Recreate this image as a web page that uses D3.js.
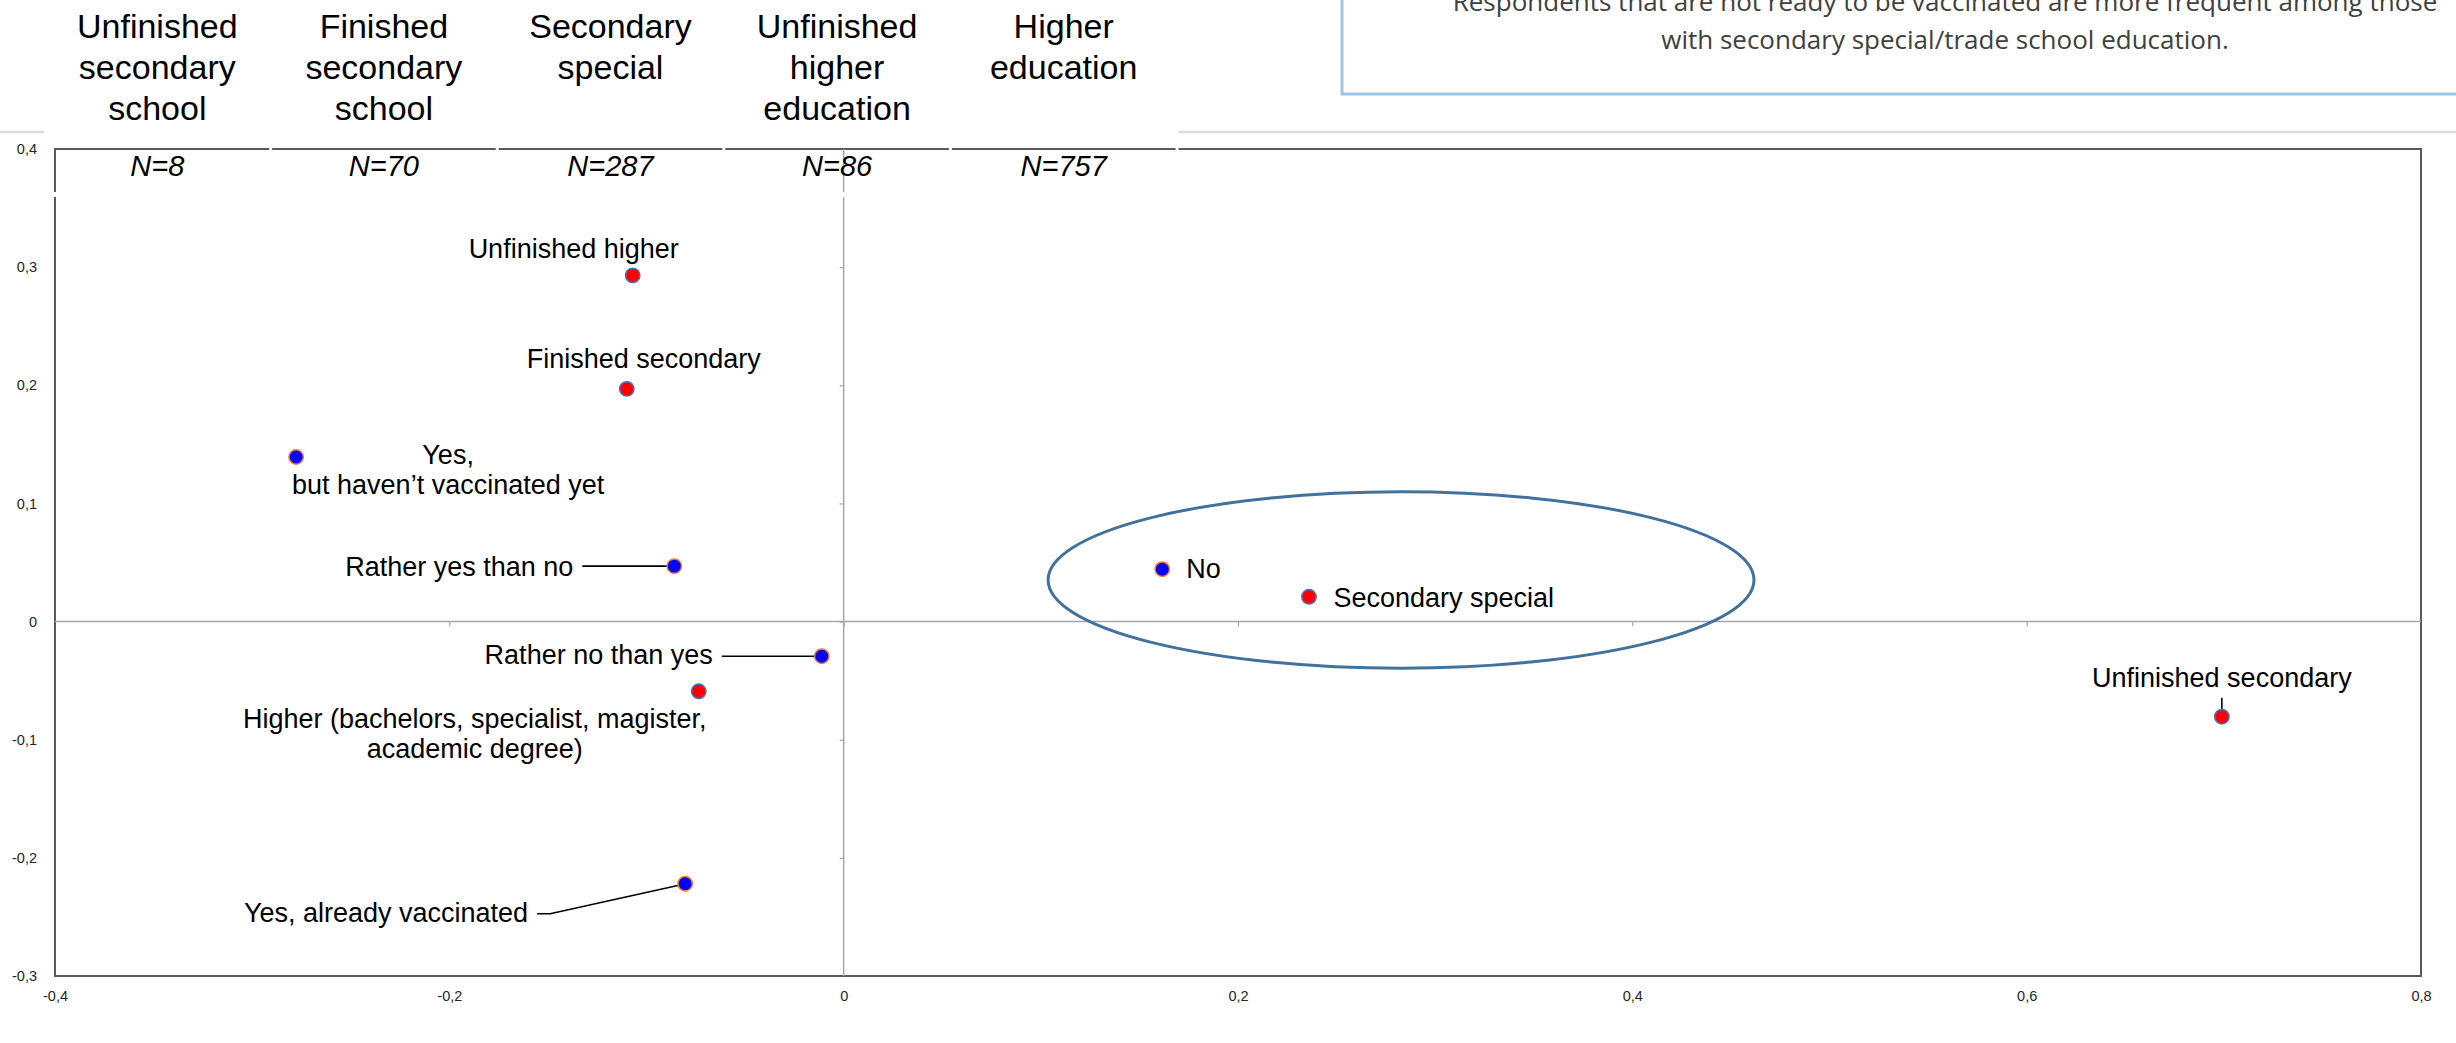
<!DOCTYPE html>
<html><head><meta charset="utf-8">
<script src="https://cdn.jsdelivr.net/npm/d3@7"></script>
<style>html,body{margin:0;padding:0;background:#fff;overflow:hidden}</style>
</head><body>
<svg id="chart" width="2456" height="1043"></svg>
<script>
// Header table: education groups and their sample sizes
const eduHeaderLines = [
  ["Unfinished", "secondary", "school"],
  ["Finished", "secondary", "school"],
  ["Secondary", "special"],
  ["Unfinished", "higher", "education"],
  ["Higher", "education"]
];
const eduN = [8, 70, 287, 86, 757];

// Education categories (red points)
const eduNames = [
  ["Unfinished higher"],
  ["Finished secondary"],
  ["Higher (bachelors, specialist, magister,", "academic degree)"],
  ["Secondary special"],
  ["Unfinished secondary"]
];
const eduX = [-0.107, -0.110, -0.0735, 0.236, 0.699];
const eduY = [0.293, 0.197, -0.059, 0.021, -0.0805];

// Readiness to be vaccinated (blue points)
const vacNames = [
  ["Yes,", "but haven\u2019t vaccinated yet"],
  ["Rather yes than no"],
  ["Rather no than yes"],
  ["No"],
  ["Yes, already vaccinated"]
];
const vacX = [-0.2777, -0.0859, -0.0111, 0.1616, -0.0804];
const vacY = [0.1393, 0.0469, -0.0293, 0.0443, -0.2219];

const xTicks = [-0.4, -0.2, 0, 0.2, 0.4, 0.6, 0.8];
const yTicks = [0.4, 0.3, 0.2, 0.1, 0, -0.1, -0.2, -0.3];

const noteLines = [
  "Respondents that are not ready to be vaccinated are more frequent among those",
  "with secondary special/trade school education."
];

// Highlight ellipse around the "No" / "Secondary special" pair (data units)
const highlight = {cx: 0.2827, cy: 0.0352, rx: 0.179, ry: 0.0747};

// ---- label placement (pixel offsets from each point) ----
const eduLabelPos = [
  {anchor: "middle", dx: -59, dy: -17},
  {anchor: "middle", dx: 17, dy: -21},
  {anchor: "middle", dx: -224, dy: 37},
  {anchor: "start", dx: 24.5, dy: 10},
  {anchor: "middle", dx: 0, dy: -30, leader: [[0, -19], [0, 0]]}
];
const vacLabelPos = [
  {anchor: "middle", dx: 152, dy: 7},
  {anchor: "end", dx: -101, dy: 10, leader: [[-92, 0], [0, 0]]},
  {anchor: "end", dx: -109, dy: 8, leader: [[-100, 0], [0, 0]]},
  {anchor: "start", dx: 24, dy: 9},
  {anchor: "end", dx: -157, dy: 38, leader: [[-148, 30], [-135, 30], [-4, 1]]}
];

const W = 2456, H = 1043;
const plot = {left: 55, right: 2421, top: 149, bottom: 976};
const FONT = "'Liberation Sans', Arial, Helvetica, sans-serif";

const svg = d3.select("#chart");
const x = d3.scaleLinear().domain([-0.4, 0.8]).range([plot.left, plot.right]);
const y = d3.scaleLinear().domain([-0.3, 0.4]).range([plot.bottom, plot.top]);

const loc = d3.formatLocale({decimal: ",", thousands: " ", grouping: [3], currency: ["", ""], minus: "-"});
const fmt = loc.format(".1~f");

svg.append("rect").attr("width", W).attr("height", H).attr("fill", "#fff");

// thin separator line under the header area
svg.append("line").attr("x1", 0).attr("x2", W).attr("y1", 132).attr("y2", 132)
  .attr("stroke", "#d9d9d9").attr("stroke-width", 2.5);

// note box
svg.append("rect").attr("x", 1342).attr("y", -20).attr("width", 1200).attr("height", 114)
  .attr("fill", "#fff").attr("stroke", "#9dc3e6").attr("stroke-width", 3);
svg.append("g").selectAll("text").data(noteLines).join("text")
  .attr("x", 1945).attr("y", (d, i) => 11 + i * 38)
  .attr("text-anchor", "middle")
  .attr("font-family", "'Open Sans', 'Noto Sans', sans-serif")
  .attr("font-size", 26).attr("fill", "#404040")
  .text(d => d);

// header table
const table = {x0: 44, x1: 1177};
const colW = (table.x1 - table.x0) / eduHeaderLines.length;
const colCenter = i => table.x0 + colW * (i + 0.5);
svg.append("rect").attr("x", table.x0).attr("y", 0).attr("width", table.x1 - table.x0 + 2).attr("height", 140)
  .attr("fill", "#fff");
const head = svg.append("g");
eduHeaderLines.forEach((lines, i) => {
  head.append("text")
    .attr("text-anchor", "middle").attr("font-family", FONT).attr("font-size", 34).attr("fill", "#000")
    .selectAll("tspan").data(lines).join("tspan")
    .attr("x", colCenter(i)).attr("y", (d, k) => 38 + k * 41)
    .text(d => d);
});

// plot frame
svg.append("rect").attr("x", plot.left).attr("y", plot.top)
  .attr("width", plot.right - plot.left).attr("height", plot.bottom - plot.top)
  .attr("fill", "none").attr("stroke", "#5a5a5a").attr("stroke-width", 2);

// zero axes inside the plot
const axisColor = "#a6a6a6";
const xZero = svg.append("g").attr("transform", `translate(0,${y(0)})`)
  .call(d3.axisBottom(x).tickValues(xTicks.slice(1, -1)).tickSize(5).tickFormat(""));
const yZero = svg.append("g").attr("transform", `translate(${x(0)},0)`)
  .call(d3.axisLeft(y).tickValues(yTicks.slice(1, -1)).tickSize(4).tickFormat(""));
[xZero, yZero].forEach(g => {
  g.select(".domain").attr("stroke", axisColor).attr("stroke-width", 1.5);
  g.selectAll(".tick line").attr("stroke", axisColor).attr("stroke-width", 1.2);
});
xZero.select(".domain").attr("d", `M${plot.left},0H${plot.right}`);
yZero.select(".domain").attr("d", `M0,${plot.top}V${plot.bottom}`);

// tick labels along the frame
const xAx = svg.append("g").attr("transform", `translate(0,${plot.bottom})`)
  .call(d3.axisBottom(x).tickValues(xTicks).tickSize(0).tickPadding(15).tickFormat(fmt));
const yAx = svg.append("g").attr("transform", `translate(${plot.left},0)`)
  .call(d3.axisLeft(y).tickValues(yTicks).tickSize(0).tickPadding(18).tickFormat(fmt));
[xAx, yAx].forEach(g => {
  g.select(".domain").remove();
  g.selectAll("text").attr("font-family", FONT).attr("font-size", 14.5).attr("fill", "#262626");
});

// N row of the table: white cell borders over the frame
const gaps = svg.append("g").attr("fill", "#fff");
for (let i = 1; i <= eduHeaderLines.length; i++) {
  gaps.append("rect").attr("x", table.x0 + colW * i - 1.5).attr("y", 144).attr("width", 3).attr("height", 12);
}
gaps.append("rect").attr("x", table.x0).attr("y", 192).attr("width", table.x1 - table.x0).attr("height", 5);

svg.append("g").selectAll("text").data(eduN).join("text")
  .attr("x", (d, i) => colCenter(i)).attr("y", 176)
  .attr("text-anchor", "middle").attr("font-family", FONT).attr("font-style", "italic")
  .attr("font-size", 29).attr("fill", "#000")
  .text(d => "N=" + d);

// highlight ellipse
svg.append("ellipse")
  .attr("cx", x(highlight.cx)).attr("cy", y(highlight.cy))
  .attr("rx", x(highlight.cx + highlight.rx) - x(highlight.cx))
  .attr("ry", y(highlight.cy - highlight.ry) - y(highlight.cy))
  .attr("fill", "none").attr("stroke", "#41719c").attr("stroke-width", 3);

// points + labels
const series = [
  {names: eduNames, xs: eduX, ys: eduY, pos: eduLabelPos, fill: "#ff0000", stroke: "#4472c4"},
  {names: vacNames, xs: vacX, ys: vacY, pos: vacLabelPos, fill: "#0000ff", stroke: "#ed7d31"}
];
const line = d3.line();
series.forEach(s => {
  const pts = s.names.map((n, i) => ({lines: n, x: s.xs[i], y: s.ys[i], p: s.pos[i]}));
  const g = svg.append("g");
  pts.forEach(d => {
    const px = x(d.x), py = y(d.y);
    if (d.p.leader) {
      g.append("path").attr("d", line(d.p.leader.map(([a, b]) => [px + a, py + b])))
        .attr("fill", "none").attr("stroke", "#000").attr("stroke-width", 1.6);
    }
    g.append("text")
      .attr("text-anchor", d.p.anchor).attr("font-family", FONT).attr("font-size", 27).attr("fill", "#000")
      .selectAll("tspan").data(d.lines).join("tspan")
      .attr("x", px + d.p.dx).attr("y", (t, k) => py + d.p.dy + k * 30)
      .text(t => t);
  });
  g.selectAll("circle").data(pts).join("circle")
    .attr("cx", d => x(d.x)).attr("cy", d => y(d.y)).attr("r", 7.2)
    .attr("fill", s.fill).attr("stroke", s.stroke).attr("stroke-width", 1.5);
});
</script>
</body></html>
